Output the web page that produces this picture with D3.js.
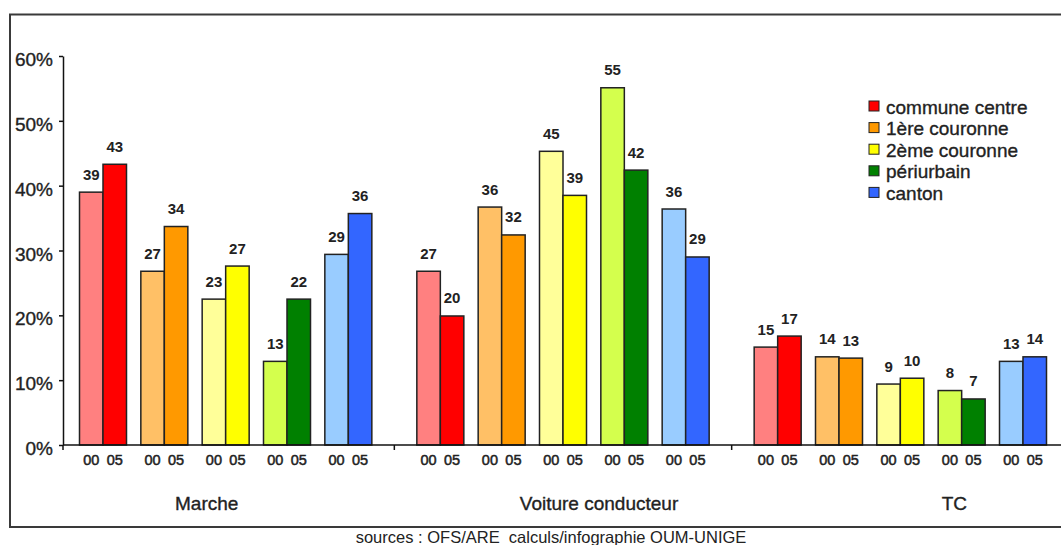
<!DOCTYPE html>
<html>
<head>
<meta charset="utf-8">
<script src="https://cdn.jsdelivr.net/npm/d3@7"></script>
<style>
    body { margin: 0; background: #fff; }
    text { font-family: "Liberation Sans", Arial, sans-serif; fill: #222; }
    .heavy { stroke: #222; stroke-width: 0.35px; }
</style>
</head>
<body>
<script>

// Data (shares in %)
let categories = ["Marche", "Voiture conducteur", "TC"]
let zones      = ["commune centre", "1ère couronne", "2ème couronne", "périurbain", "canton"]
let years      = ["00", "05"]

let marche00  = [39.0, 26.8, 22.5, 12.9, 29.4]
let marche05  = [43.3, 33.7, 27.6, 22.5, 35.7]
let voiture00 = [26.8, 36.7, 45.3, 55.1, 36.4]
let voiture05 = [19.9, 32.4, 38.5, 42.4, 29.0]
let tc00      = [15.1, 13.6, 9.4, 8.4, 12.9]
let tc05      = [16.8, 13.4, 10.3, 7.1, 13.6]

// Printed value labels
let marche00Lbl  = [39, 27, 23, 13, 29]
let marche05Lbl  = [43, 34, 27, 22, 36]
let voiture00Lbl = [27, 36, 45, 55, 36]
let voiture05Lbl = [20, 32, 39, 42, 29]
let tc00Lbl      = [15, 14, 9, 8, 13]
let tc05Lbl      = [17, 13, 10, 7, 14]

let yTicks = [0, 10, 20, 30, 40, 50, 60]
let source = "sources : OFS/ARE  calculs/infographie OUM-UNIGE"

// Styles
let colors00 = ["#ff8080", "#ffc066", "#ffff99", "#d4ff4d", "#99ccff"]
let colors05 = ["#ff0000", "#ff9900", "#ffff00", "#008000", "#3366ff"]
let catLabelDx = [-19, 36, 54]

let width = 1061
let height = 545
let axisX = 63
let barW = 23.5

let series = {
    "Marche":             [[marche00, marche00Lbl], [marche05, marche05Lbl]],
    "Voiture conducteur": [[voiture00, voiture00Lbl], [voiture05, voiture05Lbl]],
    "TC":                 [[tc00, tc00Lbl], [tc05, tc05Lbl]]
}

let rows = []
categories.forEach(cat => {
    zones.forEach((zone, j) => {
        years.forEach((yr, k) => {
            rows.push({
                cat: cat, zone: zone, year: yr,
                value: series[cat][k][0][j],
                label: series[cat][k][1][j],
                color: k == 0 ? colors00[j] : colors05[j]
            })
        })
    })
})

let svg = d3.select("body")
    .append("svg")
    .attr("width", width)
    .attr("height", height)

// Outer frame (runs past the right edge)
svg.append("rect")
    .attr("x", 10)
    .attr("y", 14.5)
    .attr("width", 1075)
    .attr("height", 512.5)
    .style("fill", "none")
    .style("stroke", "#3a3a3a")
    .style("stroke-width", 2)

let x0 = d3.scaleBand().domain(categories).range([57, 1069])
let x1 = d3.scalePoint().domain(zones).range([0, x0.bandwidth()]).padding(0.75)
let xy = d3.scaleBand().domain(years).range([-barW, barW])
let y  = d3.scaleLinear().domain([0, 60]).range([445, 56])

let barX = d => x0(d.cat) + x1(d.zone) + xy(d.year)

// Bars
svg.append("g")
    .selectAll("rect")
    .data(rows)
    .join("rect")
    .attr("x", barX)
    .attr("y", d => y(d.value))
    .attr("width", xy.bandwidth())
    .attr("height", d => y(0) - y(d.value))
    .style("fill", d => d.color)
    .style("stroke", "#222")
    .style("stroke-width", 1.5)

// Value labels
svg.append("g")
    .selectAll("text")
    .data(rows)
    .join("text")
    .attr("x", d => barX(d) + barW / 2)
    .attr("y", d => y(d.value) - 12.5)
    .attr("text-anchor", "middle")
    .style("font-size", "15px")
    .style("font-weight", "bold")
    .text(d => d.label)

// Year labels under each bar
svg.append("g")
    .selectAll("text")
    .data(rows)
    .join("text")
    .attr("x", d => barX(d) + barW / 2)
    .attr("y", 465)
    .attr("text-anchor", "middle")
    .style("font-size", "14.5px")
    .attr("class", "heavy")
    .style("stroke-width", "0.5px")
    .text(d => d.year)

// Category names
svg.append("g")
    .selectAll("text")
    .data(categories)
    .join("text")
    .attr("x", (d, i) => x0(d) + x0.bandwidth() / 2 + catLabelDx[i])
    .attr("y", 510)
    .attr("text-anchor", "middle")
    .attr("class", "heavy")
    .style("font-size", "19px")
    .text(d => d)

// Y axis
let yAxis = svg.append("g")
    .attr("transform", `translate(${axisX},0)`)
    .call(d3.axisLeft(y)
        .tickValues(yTicks)
        .tickSize(4)
        .tickSizeOuter(0)
        .tickPadding(6)
        .tickFormat(d => d + "%"))
yAxis.select(".domain").style("stroke", "#111").style("stroke-width", 1.5)
yAxis.selectAll(".tick line").style("stroke", "#111").style("stroke-width", 1.5)
yAxis.selectAll(".tick text")
    .attr("dy", "0.5em")
    .attr("class", "heavy")
    .style("font-size", "19px")
    .style("font-family", "\"Liberation Sans\", Arial, sans-serif")
    .style("fill", "#222")

// X axis line and category boundary ticks
svg.append("line")
    .attr("x1", axisX)
    .attr("x2", x0.range()[1])
    .attr("y1", y(0))
    .attr("y2", y(0))
    .style("stroke", "#111")
    .style("stroke-width", 1.5)

let bounds = [axisX].concat(categories.slice(1).map(c => x0(c)))
svg.append("g")
    .selectAll("line")
    .data(bounds)
    .join("line")
    .attr("x1", d => d)
    .attr("x2", d => d)
    .attr("y1", y(0))
    .attr("y2", y(0) + 5)
    .style("stroke", "#111")
    .style("stroke-width", 1.5)

// Legend
let legend = svg.append("g").attr("transform", "translate(869,101)")
let item = legend.selectAll("g")
    .data(zones)
    .join("g")
    .attr("transform", (d, i) => `translate(0,${i * 21.6})`)
item.append("rect")
    .attr("width", 10)
    .attr("height", 10)
    .style("fill", (d, i) => colors05[i])
    .style("stroke", "#222")
    .style("stroke-width", 1)
item.append("text")
    .attr("x", 17)
    .attr("y", 12.5)
    .attr("class", "heavy")
    .style("font-size", "19px")
    .text(d => d)

// Source line
svg.append("text")
    .attr("x", 551)
    .attr("y", 543)
    .attr("text-anchor", "middle")
    .style("font-size", "16.5px")
    .style("white-space", "pre")
    .text(source)

</script>
</body>
</html>
